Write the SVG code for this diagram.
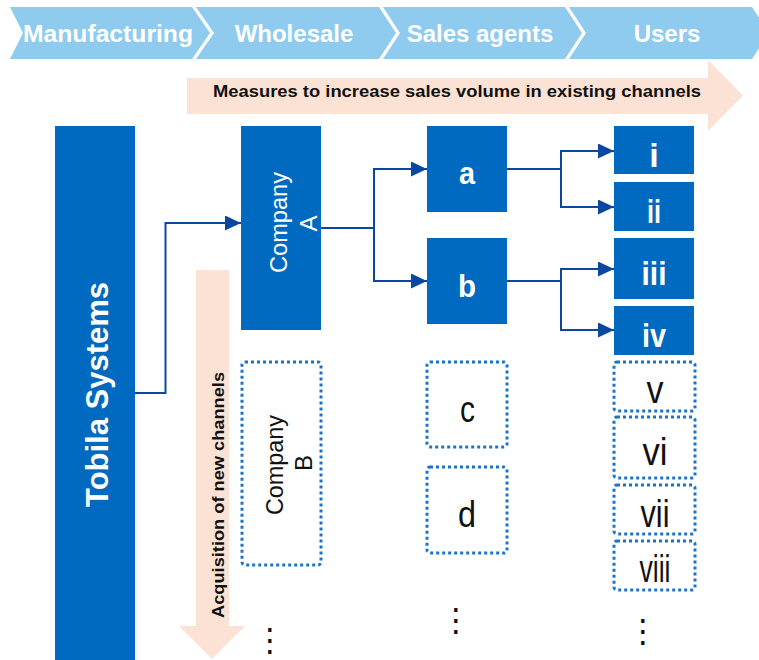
<svg xmlns="http://www.w3.org/2000/svg" width="759" height="660" viewBox="0 0 759 660">
  <defs>
    <marker id="arrow" markerUnits="userSpaceOnUse" markerWidth="16" markerHeight="15" refX="16" refY="7.5" orient="auto">
      <path d="M0,0 L16,7.5 L0,15 Z" fill="#0a47a1"/>
    </marker>
  </defs>
  <style>
    .stage { fill: #8ecbef; }
    .stage-label { font-family: "Liberation Sans", Arial, sans-serif; font-weight: bold; font-size: 24px; fill: #ffffff; text-anchor: middle; }
    .band { fill: #fbe2d5; }
    .band-label { font-family: "Liberation Sans", Arial, sans-serif; font-weight: bold; font-size: 17px; fill: #111111; text-anchor: middle; }
    .solid { fill: #0069c0; }
    .dotted { fill: #ffffff; stroke: #1a74c8; stroke-width: 3; stroke-dasharray: 3 3; }
    .w-bold { font-family: "Liberation Sans", Arial, sans-serif; font-weight: bold; fill: #ffffff; text-anchor: middle; }
    .w-reg { font-family: "Liberation Sans", Arial, sans-serif; fill: #ffffff; text-anchor: middle; }
    .k-reg { font-family: "Liberation Sans", Arial, sans-serif; fill: #111111; text-anchor: middle; }
    .dots { font-family: "DejaVu Sans", sans-serif; font-size: 32px; fill: #111111; text-anchor: middle; }
    .link { fill: none; stroke: #0a47a1; stroke-width: 2; }
  </style>

  <!-- channel stages -->
  <g id="stages">
    <g id="stage-manufacturing">
      <path class="stage" d="M10,7 H192 L210,33 L192,59 H10 L23,33 Z"/>
      <text class="stage-label" x="108" y="42" textLength="170" lengthAdjust="spacingAndGlyphs">Manufacturing</text>
    </g>
    <g id="stage-wholesale">
      <path class="stage" d="M196,7 H379 L396,33 L379,59 H196 L214,33 Z"/>
      <text class="stage-label" x="294" y="42">Wholesale</text>
    </g>
    <g id="stage-sales-agents">
      <path class="stage" d="M383,7 H565 L582,33 L565,59 H383 L400,33 Z"/>
      <text class="stage-label" x="480" y="42">Sales agents</text>
    </g>
    <g id="stage-users">
      <path class="stage" d="M569,7 H752 L769,33 L752,59 H569 L586,33 Z"/>
      <text class="stage-label" x="667" y="42">Users</text>
    </g>
  </g>

  <!-- strategy arrows -->
  <g id="band-existing">
    <path class="band" d="M187,78 H708 V60 L743,95.5 L708,131 V114 H187 Z"/>
    <text class="band-label" x="457" y="97" textLength="488" lengthAdjust="spacingAndGlyphs">Measures to increase sales volume in existing channels</text>
  </g>
  <g id="band-new">
    <path class="band" d="M196,270 H229 V626 H245 L212,659 L179,626 H196 Z"/>
    <text class="band-label" transform="translate(224,495) rotate(-90)" textLength="246" lengthAdjust="spacingAndGlyphs">Acquisition of new channels</text>
  </g>

  <!-- connectors -->
  <g id="connectors">
    <path class="link" d="M135,393 H165.5 V223 H241" marker-end="url(#arrow)"/>
    <path class="link" d="M321,228 H374"/>
    <path class="link" d="M374,228 V169 H427" marker-end="url(#arrow)"/>
    <path class="link" d="M374,228 V281 H427" marker-end="url(#arrow)"/>
    <path class="link" d="M507,169 H561"/>
    <path class="link" d="M561,169 V151 H614" marker-end="url(#arrow)"/>
    <path class="link" d="M561,169 V207 H614" marker-end="url(#arrow)"/>
    <path class="link" d="M507,281 H561"/>
    <path class="link" d="M561,281 V269 H614" marker-end="url(#arrow)"/>
    <path class="link" d="M561,281 V330 H614" marker-end="url(#arrow)"/>
  </g>

  <!-- manufacturer -->
  <g id="tobila">
    <rect class="solid" x="55" y="126" width="80" height="534"/>
    <text class="w-bold" font-size="32" transform="translate(108,394.5) rotate(-90)" textLength="225" lengthAdjust="spacingAndGlyphs">Tobila Systems</text>
  </g>

  <!-- wholesale -->
  <g id="company-a">
    <rect class="solid" x="241" y="126" width="80" height="204"/>
    <text class="w-reg" font-size="24" transform="translate(287,222.5) rotate(-90)" textLength="101" lengthAdjust="spacingAndGlyphs">Company</text>
    <text class="w-reg" font-size="24" transform="translate(317,223.5) rotate(-90)">A</text>
  </g>
  <g id="company-b">
    <rect class="dotted" x="242" y="362" width="79" height="203" rx="3"/>
    <text class="k-reg" font-size="24" transform="translate(283,465) rotate(-90)" textLength="100" lengthAdjust="spacingAndGlyphs">Company</text>
    <text class="k-reg" font-size="24" transform="translate(312,463) rotate(-90)">B</text>
  </g>
  <g id="wholesale-more">
    <text class="dots" x="270" y="651">⋮</text>
  </g>

  <!-- sales agents -->
  <g id="agent-a">
    <rect class="solid" x="427" y="126" width="80" height="86"/>
    <text class="w-bold" font-size="32" x="467" y="184" textLength="16" lengthAdjust="spacingAndGlyphs">a</text>
  </g>
  <g id="agent-b">
    <rect class="solid" x="427" y="238" width="80" height="86"/>
    <text class="w-bold" font-size="32" x="467" y="297" textLength="18" lengthAdjust="spacingAndGlyphs">b</text>
  </g>
  <g id="agent-c">
    <rect class="dotted" x="427" y="362" width="80" height="85" rx="3"/>
    <text class="k-reg" font-size="36" x="467.5" y="422" textLength="15" lengthAdjust="spacingAndGlyphs">c</text>
  </g>
  <g id="agent-d">
    <rect class="dotted" x="427" y="467" width="80" height="86" rx="3"/>
    <text class="k-reg" font-size="36" x="467" y="527" textLength="18" lengthAdjust="spacingAndGlyphs">d</text>
  </g>
  <g id="agents-more">
    <text class="dots" x="456" y="631">⋮</text>
  </g>

  <!-- users -->
  <g id="user-i">
    <rect class="solid" x="614" y="126" width="80" height="48"/>
    <text class="w-bold" font-size="34" x="654" y="167">i</text>
  </g>
  <g id="user-ii">
    <rect class="solid" x="614" y="182" width="80" height="49"/>
    <text class="w-bold" font-size="34" x="654" y="223" textLength="14" lengthAdjust="spacingAndGlyphs">ii</text>
  </g>
  <g id="user-iii">
    <rect class="solid" x="614" y="238" width="80" height="61"/>
    <text class="w-bold" font-size="34" x="654" y="285" textLength="25" lengthAdjust="spacingAndGlyphs">iii</text>
  </g>
  <g id="user-iv">
    <rect class="solid" x="614" y="306" width="80" height="49"/>
    <text class="w-bold" font-size="34" x="654" y="347" textLength="24" lengthAdjust="spacingAndGlyphs">iv</text>
  </g>
  <g id="user-v">
    <rect class="dotted" x="614" y="362" width="81" height="49" rx="3"/>
    <text class="k-reg" font-size="38" x="655" y="403" textLength="17" lengthAdjust="spacingAndGlyphs">v</text>
  </g>
  <g id="user-vi">
    <rect class="dotted" x="614" y="417" width="81" height="61" rx="3"/>
    <text class="k-reg" font-size="38" x="655" y="465" textLength="25" lengthAdjust="spacingAndGlyphs">vi</text>
  </g>
  <g id="user-vii">
    <rect class="dotted" x="614" y="485" width="81" height="49" rx="3"/>
    <text class="k-reg" font-size="38" x="655" y="527" textLength="29" lengthAdjust="spacingAndGlyphs">vii</text>
  </g>
  <g id="user-viii">
    <rect class="dotted" x="614" y="541" width="81" height="49" rx="3"/>
    <text class="k-reg" font-size="38" x="655" y="582" textLength="31" lengthAdjust="spacingAndGlyphs">viii</text>
  </g>
  <g id="users-more">
    <text class="dots" x="643" y="642">⋮</text>
  </g>
</svg>
